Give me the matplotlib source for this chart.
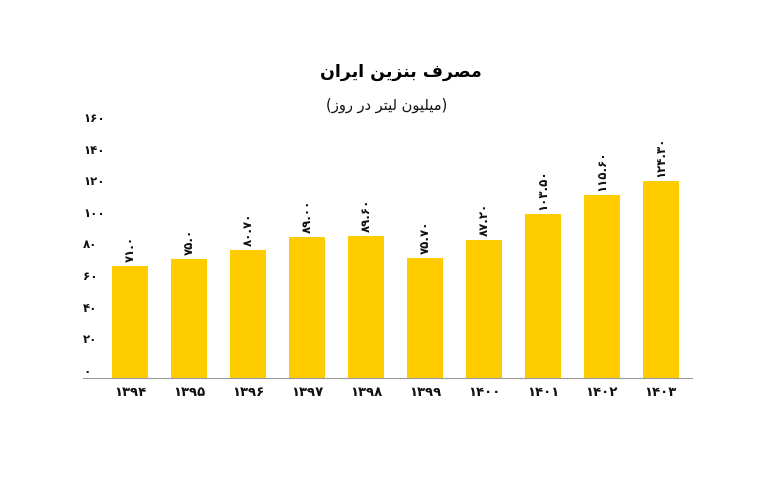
import matplotlib
matplotlib.use('Agg')
import matplotlib.pyplot as plt

years = ['۱۳۹۴', '۱۳۹۵', '۱۳۹۶', '۱۳۹۷', '۱۳۹۸', '۱۳۹۹', '۱۴۰۰', '۱۴۰۱', '۱۴۰۲', '۱۴۰۳']
values = [71.0, 75.0, 80.7, 89.0, 89.6, 75.7, 87.2, 103.5, 115.6, 124.3]
value_labels = ['۷۱.۰', '۷۵.۰', '۸۰.۷۰', '۸۹.۰۰', '۸۹.۶۰', '۷۵.۷۰', '۸۷.۲۰', '۱۰۳.۵۰', '۱۱۵.۶۰', '۱۲۴.۳۰']
y_ticks = [0, 20, 40, 60, 80, 100, 120, 140, 160]
y_tick_labels = ['۰', '۲۰', '۴۰', '۶۰', '۸۰', '۱۰۰', '۱۲۰', '۱۴۰', '۱۶۰']
title = 'مصرف بنزین ایران'
subtitle = '(میلیون لیتر در روز)'

# matplotlib has no arabic shaping, so pick presentation forms by hand
# (isolated, final, initial, medial)
forms = {
    'ا': ('\uFE8D', '\uFE8E', None, None),
    'ب': ('\uFE8F', '\uFE90', '\uFE91', '\uFE92'),
    'ت': ('\uFE95', '\uFE96', '\uFE97', '\uFE98'),
    'د': ('\uFEA9', '\uFEAA', None, None),
    'ر': ('\uFEAD', '\uFEAE', None, None),
    'ز': ('\uFEAF', '\uFEB0', None, None),
    'ص': ('\uFEB9', '\uFEBA', '\uFEBB', '\uFEBC'),
    'ف': ('\uFED1', '\uFED2', '\uFED3', '\uFED4'),
    'ل': ('\uFEDD', '\uFEDE', '\uFEDF', '\uFEE0'),
    'م': ('\uFEE1', '\uFEE2', '\uFEE3', '\uFEE4'),
    'ن': ('\uFEE5', '\uFEE6', '\uFEE7', '\uFEE8'),
    'و': ('\uFEED', '\uFEEE', None, None),
    'ی': ('\uFBFC', '\uFBFD', '\uFBFE', '\uFBFF'),
}


def shape(text):
    out = []
    for i, ch in enumerate(text):
        if ch not in forms:
            out.append(ch)
            continue
        prev = text[i - 1] if i > 0 else ''
        nxt = text[i + 1] if i + 1 < len(text) else ''
        join_prev = prev in forms and forms[prev][2] is not None
        join_next = nxt in forms and forms[ch][2] is not None
        if join_prev and join_next:
            out.append(forms[ch][3])
        elif join_prev:
            out.append(forms[ch][1])
        elif join_next:
            out.append(forms[ch][2])
        else:
            out.append(forms[ch][0])
    s = ''.join(out)[::-1]
    return s.translate(str.maketrans('()', ')('))


plt.rcParams['font.family'] = ['DejaVu Sans']

fig = plt.figure(figsize=(7.83, 4.86), dpi=100)
ax = fig.add_axes([83 / 783, 1 - 378 / 486, (692 - 83) / 783, (378 - 125) / 486])

x = list(range(len(years)))
ax.bar(x, values, width=0.61, color='#FFCC00')
ax.set_xlim(-0.8, 9.53)
ax.set_ylim(0, 160)

for xi, v, lab in zip(x, values, value_labels):
    ax.text(xi, v + 2.5, lab, rotation=90, ha='center', va='bottom',
            fontsize=8.5, fontweight='bold', color='#111111')

ax.set_xticks(x)
ax.set_xticklabels(years, fontsize=9.5, fontweight='bold', color='#111111')
ax.set_yticks(y_ticks)
ax.set_yticklabels(y_tick_labels, fontsize=8.5, fontweight='bold', color='#111111')
for t in ax.get_yticklabels():
    t.set_horizontalalignment('left')
    t.set_verticalalignment('bottom')
ax.tick_params(axis='y', length=0, pad=0)
ax.tick_params(axis='x', length=0, pad=6)

for side in ['top', 'right', 'left']:
    ax.spines[side].set_visible(False)
ax.spines['bottom'].set_color('#999999')

fig.text(401 / 783, 1 - 72 / 486, shape(title), ha='center', va='center',
         fontsize=12.5, fontweight='bold', color='#000000')
fig.text(387 / 783, 1 - 105 / 486, shape(subtitle), ha='center', va='center',
         fontsize=10.5, color='#111111')

fig.savefig('out.png', dpi=100)
